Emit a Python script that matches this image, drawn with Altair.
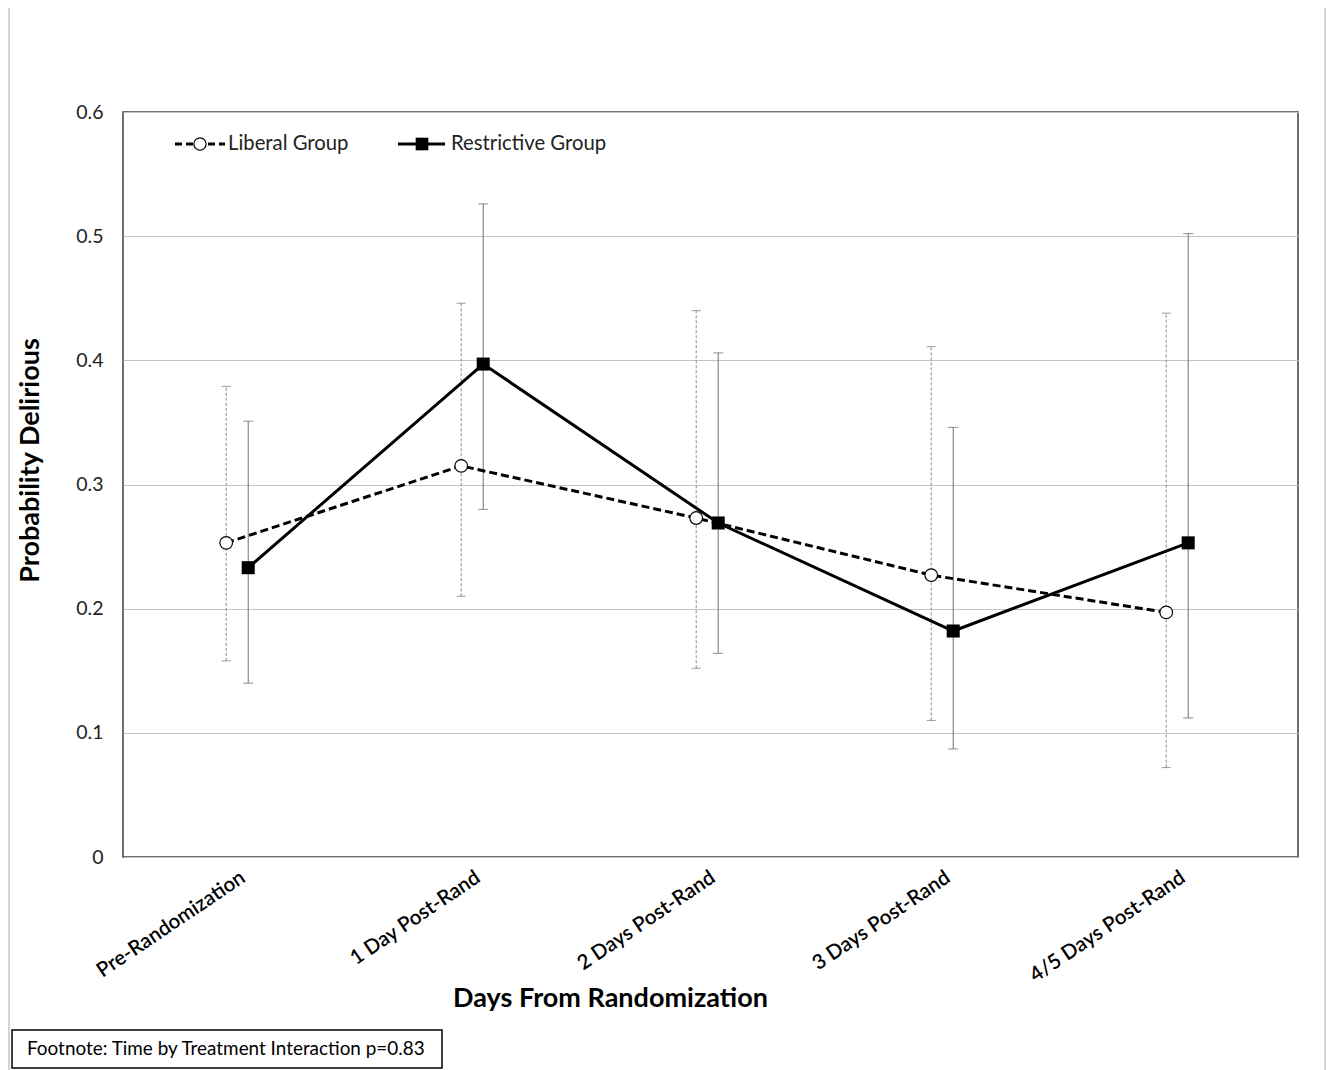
import altair as alt
import pandas as pd

categories = ["Pre-Randomization", "1 Day Post-Rand", "2 Days Post-Rand", "3 Days Post-Rand", "4/5 Days Post-Rand"]
liberal_mean = [0.253, 0.315, 0.273, 0.227, 0.197]
liberal_lo = [0.158, 0.210, 0.152, 0.110, 0.072]
liberal_hi = [0.379, 0.446, 0.440, 0.411, 0.438]
restrictive_mean = [0.233, 0.397, 0.269, 0.182, 0.253]
restrictive_lo = [0.140, 0.280, 0.164, 0.087, 0.112]
restrictive_hi = [0.351, 0.526, 0.406, 0.346, 0.502]
y_ticks = [0, 0.1, 0.2, 0.3, 0.4, 0.5, 0.6]

FONT = "Lato"

lib = pd.DataFrame({"cat": categories, "mean": liberal_mean, "lo": liberal_lo, "hi": liberal_hi})
res = pd.DataFrame({"cat": categories, "mean": restrictive_mean, "lo": restrictive_lo, "hi": restrictive_hi})

W, H = 1175, 745
OFF = 11

x = alt.X(
    "cat:N",
    sort=categories,
    scale=alt.Scale(type="point", padding=0.5, align=0.486),
    axis=alt.Axis(
        title="Days From Randomization",
        titleFont=FONT, titleFontSize=27, titleFontWeight="bold", titleColor="black",
        titleX=487, titleY=141, titleBaseline="middle", titleAlign="center",
        labelAngle=-34, labelFont=FONT, labelFontSize=20.5, labelFontWeight=600, labelColor="black",
        labelPadding=10, labelLimit=0, ticks=False, domain=False, grid=False,
    ),
)

def yenc(field):
    return alt.Y(
        f"{field}:Q",
        scale=alt.Scale(domain=[0, 0.6], nice=False),
        axis=alt.Axis(
            values=y_ticks,
            labelExpr="datum.value == 0 ? '0' : format(datum.value, '.1f')",
            title="Probability Delirious",
            titleFont=FONT, titleFontSize=27, titleFontWeight="bold", titleColor="black",
            titleX=-93, titleY=348, titleAngle=270, titleBaseline="middle", titleAlign="center",
            labelFont=FONT, labelFontSize=19.5, labelColor="#222222", labelPadding=20,
            ticks=False, domain=False, grid=True, gridColor="#c4c4c4", gridWidth=1,
        ),
    )

# error bars
lib_err = alt.Chart(lib).mark_rule(color="#8a8a8a", strokeWidth=1, strokeDash=[3, 2], xOffset=-OFF).encode(
    x=x, y=yenc("lo"), y2="hi:Q")
res_err = alt.Chart(res).mark_rule(color="#707070", strokeWidth=1, xOffset=OFF).encode(
    x=x, y=yenc("lo"), y2="hi:Q")
lib_caps = alt.Chart(lib).transform_fold(["lo", "hi"], as_=["k", "v"]).mark_tick(
    color="#707070", thickness=1, size=9, xOffset=-OFF).encode(x=x, y=alt.Y("v:Q"))
res_caps = alt.Chart(res).transform_fold(["lo", "hi"], as_=["k", "v"]).mark_tick(
    color="#606060", thickness=1, size=10, xOffset=OFF).encode(x=x, y=alt.Y("v:Q"))

# lines
lib_line = alt.Chart(lib).mark_line(color="black", strokeWidth=3, strokeDash=[8, 4], xOffset=-OFF).encode(
    x=x, y=alt.Y("mean:Q"))
res_line = alt.Chart(res).mark_line(color="black", strokeWidth=3, xOffset=OFF).encode(
    x=x, y=alt.Y("mean:Q"))
lib_pts = alt.Chart(lib).mark_point(shape="circle", filled=True, fill="white", stroke="black",
                                    strokeWidth=1.2, size=160, opacity=1, xOffset=-OFF).encode(
    x=x, y=alt.Y("mean:Q"))
res_pts = alt.Chart(res).mark_point(shape="square", filled=True, color="black",
                                    size=170, opacity=1, xOffset=OFF).encode(
    x=x, y=alt.Y("mean:Q"))

# legend (drawn inside the plot)
one = pd.DataFrame({"k": [0]})
leg_lib_line = alt.Chart(one).mark_rule(color="black", strokeWidth=3, strokeDash=[7, 4]).encode(
    x=alt.value(52), x2=alt.value(102), y=alt.value(32))
leg_lib_pt = alt.Chart(one).mark_point(shape="circle", filled=True, fill="white", stroke="black",
                                       strokeWidth=1.2, size=150, opacity=1).encode(
    x=alt.value(77), y=alt.value(32))
leg_lib_txt = alt.Chart(pd.DataFrame({"t": ["Liberal Group"]})).mark_text(
    align="left", baseline="middle", font=FONT, fontSize=20.3, color="#222222").encode(
    x=alt.value(105), y=alt.value(32), text="t:N")
leg_res_line = alt.Chart(one).mark_rule(color="black", strokeWidth=3).encode(
    x=alt.value(275), x2=alt.value(322), y=alt.value(32))
leg_res_pt = alt.Chart(one).mark_point(shape="square", filled=True, color="black", size=160, opacity=1).encode(
    x=alt.value(299), y=alt.value(32))
leg_res_txt = alt.Chart(pd.DataFrame({"t": ["Restrictive Group"]})).mark_text(
    align="left", baseline="middle", font=FONT, fontSize=20.3, color="#222222").encode(
    x=alt.value(328), y=alt.value(32), text="t:N")

# footnote box
foot_box = alt.Chart(one).mark_rect(fill="white", stroke="black", strokeWidth=1.5).encode(
    x=alt.value(-111), x2=alt.value(319), y=alt.value(918), y2=alt.value(956))
foot_txt = alt.Chart(pd.DataFrame({"t": ["Footnote: Time by Treatment Interaction p=0.83"]})).mark_text(
    align="left", baseline="middle", font=FONT, fontSize=18.9, color="black").encode(
    x=alt.value(-96), y=alt.value(937), text="t:N")

# outer faint frame lines
frame_l = alt.Chart(one).mark_rule(color="#d4d4d4", strokeWidth=2).encode(
    x=alt.value(-114), y=alt.value(-104), y2=alt.value(960))
frame_r = alt.Chart(one).mark_rule(color="#d4d4d4", strokeWidth=2).encode(
    x=alt.value(1202), y=alt.value(-104), y2=alt.value(960))

chart = alt.layer(
    lib_err, res_err, lib_caps, res_caps, lib_line, res_line, lib_pts, res_pts,
    leg_lib_line, leg_lib_pt, leg_lib_txt, leg_res_line, leg_res_pt, leg_res_txt,
    foot_box, foot_txt, frame_l, frame_r,
).properties(
    width=W, height=H,
    padding={"left": 115, "top": 104, "right": 28, "bottom": 213},
    autosize=alt.AutoSizeParams(type="none"),
    background="white",
).configure_view(stroke="#404040", strokeWidth=1.5)

chart.save("out.html", embed_options={"renderer": "svg", "actions": False})
